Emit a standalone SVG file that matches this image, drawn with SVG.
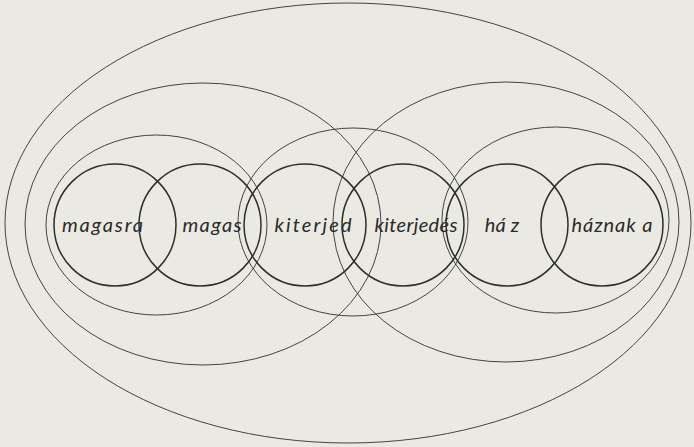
<svg xmlns="http://www.w3.org/2000/svg" width="694" height="447" viewBox="0 0 694 447">
<style>
.bg{fill:#ebeae2}
.thin{fill:none;stroke:#3a3a3a;stroke-width:0.95}
.word{fill:none;stroke:#2e2e2e;stroke-width:1.5}
.lbl{font-family:"Lato","Open Sans","Liberation Sans",sans-serif;font-style:italic;font-weight:400;font-size:20px;fill:#2a2a2a;text-anchor:middle}
</style>
<rect class="bg" x="0" y="0" width="694" height="447"/>
<g id="connectors">
<ellipse id="outer" class="thin" cx="348" cy="223" rx="343" ry="220"/>
<ellipse id="left-big" class="thin" cx="203" cy="224" rx="178" ry="141"/>
<ellipse id="right-big" class="thin" cx="506" cy="222" rx="173" ry="140"/>
<ellipse id="left-pair" class="thin" cx="156.5" cy="225" rx="110.5" ry="90"/>
<ellipse id="mid-pair" class="thin" cx="353" cy="222" rx="115" ry="94"/>
<ellipse id="right-pair" class="thin" cx="555.5" cy="220" rx="113.5" ry="93"/>
</g>
<g id="n-magasra"><circle class="word" cx="115" cy="225" r="61"/><text class="lbl" x="102.5" y="232" textLength="81" lengthAdjust="spacing">magasra</text></g>
<g id="n-magas"><circle class="word" cx="200" cy="225" r="61"/><text class="lbl" x="212" y="232" textLength="59" lengthAdjust="spacing">magas</text></g>
<g id="n-kiterjed"><circle class="word" cx="305" cy="225" r="61"/><text class="lbl" x="313" y="232" textLength="77" lengthAdjust="spacing">kiterjed</text></g>
<g id="n-kiterjedes"><circle class="word" cx="403" cy="225" r="61"/><text class="lbl" x="416" y="232" textLength="83" lengthAdjust="spacing">kiterjedés</text></g>
<g id="n-haz"><circle class="word" cx="507" cy="225" r="61"/><text class="lbl" x="502" y="232">há<tspan dx="5">z</tspan></text></g>
<g id="n-haznaka"><circle class="word" cx="602" cy="225" r="61"/><text class="lbl" x="612" y="232" textLength="81" lengthAdjust="spacing">háznak a</text></g>
</svg>
